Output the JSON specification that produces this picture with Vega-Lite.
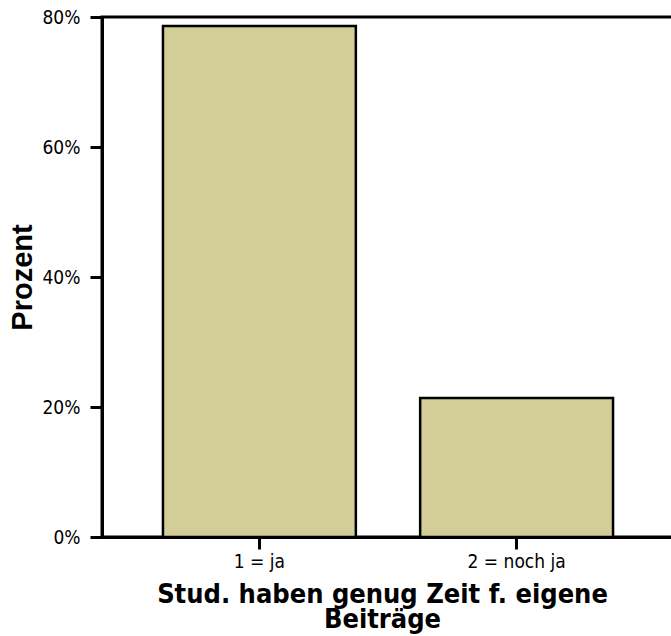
{
  "$schema": "https://vega.github.io/schema/vega-lite/v6.json",
  "autosize": {"type": "none"},
  "padding": {"left": 102, "top": 17, "right": 0, "bottom": 99},
  "width": 572,
  "height": 520,
  "background": "white",
  "config": {
    "view": {"stroke": "black", "strokeWidth": 3},
    "axis": {
      "grid": false,
      "domainColor": "black",
      "domainWidth": 3,
      "tickColor": "black",
      "tickWidth": 3,
      "tickSize": 12,
      "labelFont": "DejaVu Sans Condensed",
      "labelFontSize": 19,
      "labelColor": "black"
    }
  },
  "data": {
    "values": [
      {"cat": "1 = ja", "pct": 78.6},
      {"cat": "2 = noch ja", "pct": 21.4}
    ]
  },
  "mark": {"type": "bar", "fill": "#D3CE97", "stroke": "black", "strokeWidth": 2.5},
  "encoding": {
    "x": {
      "field": "cat",
      "type": "nominal",
      "sort": null,
      "scale": {"paddingInner": 0.25, "paddingOuter": 0.237},
      "axis": {
        "labelAngle": 0,
        "labelPadding": 3,
        "title": ["Stud. haben genug Zeit f. eigene", "Beiträge"],
        "titleFont": "DejaVu Sans Condensed",
        "titleFontWeight": "bold",
        "titleFontSize": 27,
        "titleLineHeight": 25,
        "titleColor": "black",
        "titleX": 280,
        "titleY": 65,
        "titleBaseline": "alphabetic"
      }
    },
    "y": {
      "field": "pct",
      "type": "quantitative",
      "scale": {"domain": [0, 80], "nice": false},
      "axis": {
        "values": [0, 20, 40, 60, 80],
        "labelExpr": "datum.value + '%'",
        "labelPadding": 10,
        "title": "Prozent",
        "titleFont": "Liberation Sans",
        "titleFontWeight": "bold",
        "titleFontSize": 29,
        "titleColor": "black",
        "titleAngle": -90,
        "titleX": -71,
        "titleY": 260,
        "titleAlign": "center",
        "titleBaseline": "alphabetic"
      }
    }
  }
}
